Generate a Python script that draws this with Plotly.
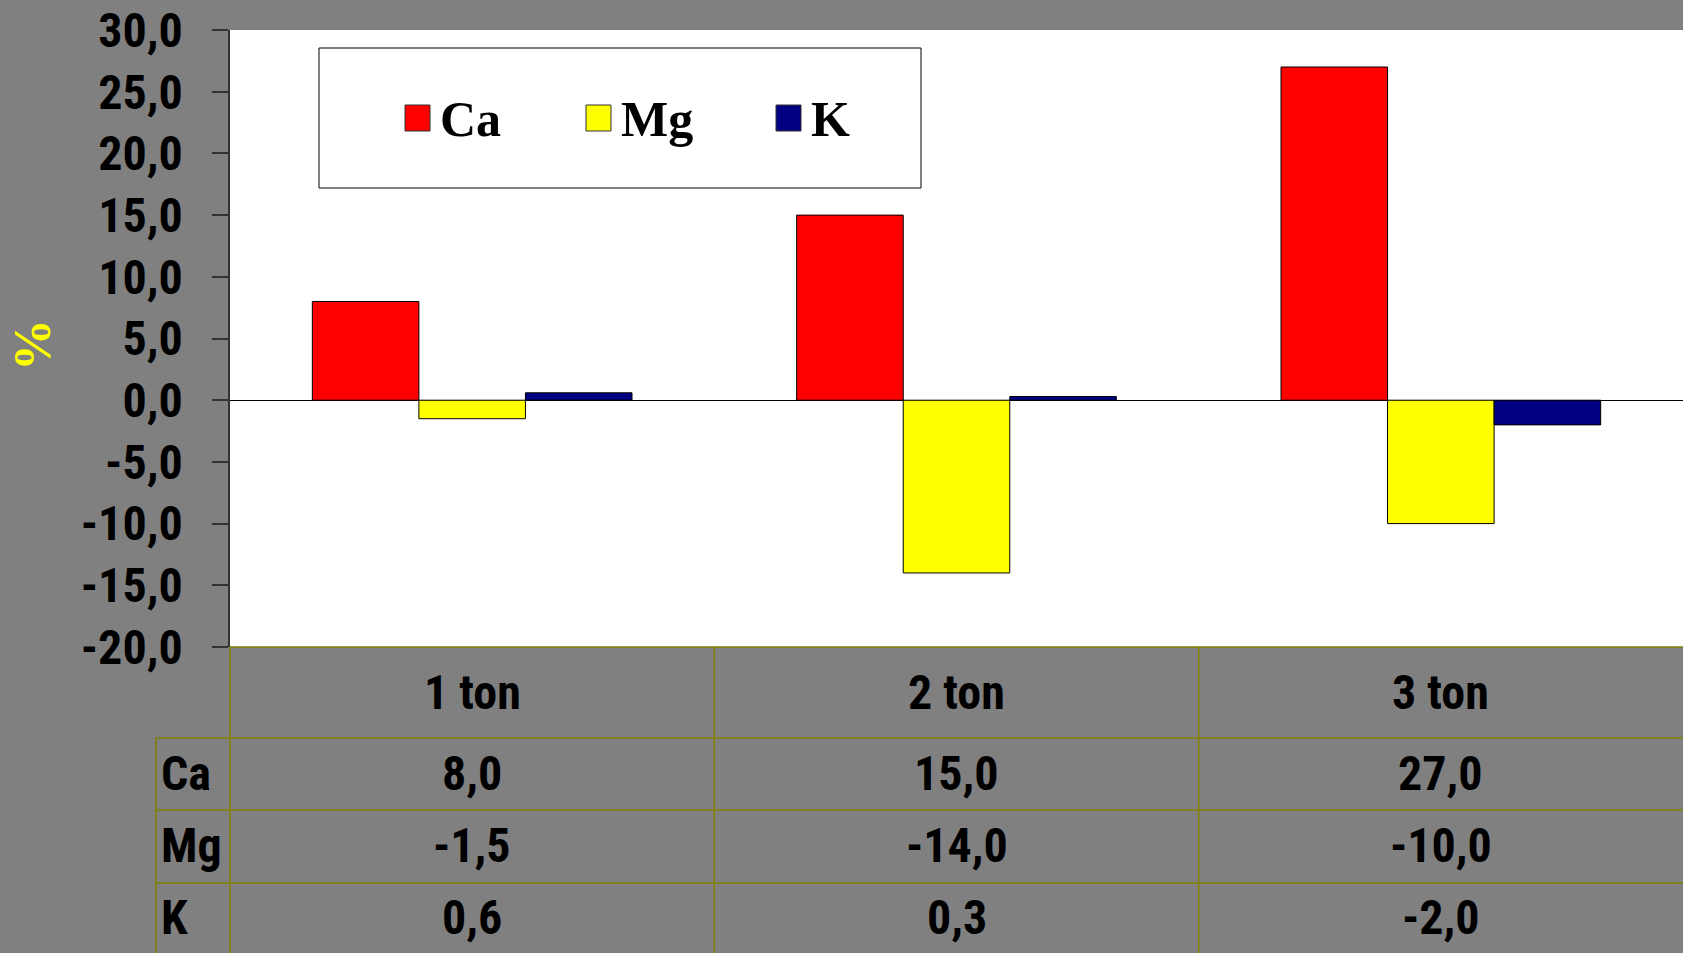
import plotly.graph_objects as go

categories = ["1 ton", "2 ton", "3 ton"]
series_names = ["Ca", "Mg", "K"]
ca_values = [8.0, 15.0, 27.0]
mg_values = [-1.5, -14.0, -10.0]
k_values = [0.6, 0.3, -2.0]
y_ticks = [30, 25, 20, 15, 10, 5, 0, -5, -10, -15, -20]

series_values = [ca_values, mg_values, k_values]
colors = ["#FF0000", "#FFFF00", "#000080"]

W, H = 1683, 953
PL, PR, PT, PB = 230, 1683, 30, 647  # plot area in pixels

def px_x(X):
    return (X - PL) / (PR - PL)

def px_y(Y):
    return (PB - Y) / (PB - PT)

def fmt(v):
    return f"{v:.1f}".replace(".", ",")

NARROW = "Liberation Sans Narrow, Arial Narrow, Roboto Condensed, DejaVu Sans Condensed, Arial, sans-serif"
SERIF = "Liberation Serif, Times New Roman, serif"
OLIVE = "#808000"

fig = go.Figure()
for name, vals, col in zip(series_names, series_values, colors):
    fig.add_trace(go.Bar(x=categories, y=vals, name=name,
                         marker=dict(color=col, line=dict(color="#000000", width=1)),
                         showlegend=False))

fig.update_layout(
    width=W, height=H,
    margin=dict(l=PL, r=W - PR, t=PT, b=H - PB, pad=0),
    paper_bgcolor="#808080", plot_bgcolor="#FFFFFF",
    barmode="group", bargap=0.34, bargroupgap=0,
    xaxis=dict(showticklabels=False, ticks="", showgrid=False, zeroline=False,
               showline=False, range=[-0.5, 2.5]),
    yaxis=dict(range=[-20, 30], tickvals=y_ticks, ticktext=[fmt(t) for t in y_ticks],
               ticks="outside", ticklen=16, tickwidth=1.5, tickcolor="#333333",
               showline=True, linecolor="#333333", linewidth=1.5,
               showgrid=False, zeroline=True, zerolinecolor="#000000", zerolinewidth=1,
               tickfont=dict(family=NARROW, size=48, color="#000000", weight="bold"),
               ticklabelstandoff=20),
)

shapes = []
annotations = []

# table grid
row_tops = [647, 738, 810, 883, 953]
for i, Y in enumerate(row_tops[:-1]):
    x0 = PL if i == 0 else 156
    shapes.append(dict(type="line", xref="paper", yref="paper",
                       x0=px_x(x0), x1=px_x(PR), y0=px_y(Y), y1=px_y(Y),
                       line=dict(color=OLIVE, width=1.5)))
col_w = (PR - PL) / len(categories)
for j in range(len(categories)):
    X = PL + j * col_w
    shapes.append(dict(type="line", xref="paper", yref="paper",
                       x0=px_x(X), x1=px_x(X), y0=px_y(647), y1=px_y(953),
                       line=dict(color=OLIVE, width=1.5)))
shapes.append(dict(type="line", xref="paper", yref="paper",
                   x0=px_x(156), x1=px_x(156), y0=px_y(738), y1=px_y(953),
                   line=dict(color=OLIVE, width=1.5)))

cell_font = dict(family=NARROW, size=48, color="#000000", weight="bold")
# header labels
for j, c in enumerate(categories):
    annotations.append(dict(text=c, x=px_x(PL + (j + 0.5) * col_w), y=px_y(692),
                            xref="paper", yref="paper", showarrow=False,
                            xanchor="center", yanchor="middle", font=cell_font))
row_centers = [774, 846, 918]
for name, vals, Yc in zip(series_names, series_values, row_centers):
    annotations.append(dict(text=name, x=px_x(159), y=px_y(Yc), xref="paper", yref="paper",
                            showarrow=False, xanchor="left", yanchor="middle", font=cell_font))
    for j, v in enumerate(vals):
        annotations.append(dict(text=fmt(v), x=px_x(PL + (j + 0.5) * col_w), y=px_y(Yc),
                                xref="paper", yref="paper", showarrow=False,
                                xanchor="center", yanchor="middle", font=cell_font))

# legend box
shapes.append(dict(type="rect", xref="paper", yref="paper",
                   x0=px_x(319), x1=px_x(921), y0=px_y(188), y1=px_y(48),
                   fillcolor="#FFFFFF", line=dict(color="#000000", width=1)))
leg_x = [405, 586, 776]
for name, col, X in zip(series_names, colors, leg_x):
    shapes.append(dict(type="rect", xref="paper", yref="paper",
                       x0=px_x(X), x1=px_x(X + 25), y0=px_y(131), y1=px_y(105),
                       fillcolor=col, line=dict(color="#333333", width=1)))
    annotations.append(dict(text=name, x=px_x(X + 33), y=px_y(119), xref="paper", yref="paper",
                            showarrow=False, xanchor="left", yanchor="middle",
                            font=dict(family=SERIF, size=50, color="#000000", weight="bold")))

# y axis title
annotations.append(dict(text="%", x=px_x(32), y=px_y(345), xref="paper", yref="paper",
                        showarrow=False, textangle=-90, xanchor="center", yanchor="middle",
                        font=dict(family=SERIF, size=52, color="#FFFF00", weight="bold")))

fig.update_layout(shapes=shapes, annotations=annotations)

fig.write_html("out.html", config={"displayModeBar": False},
               post_script="document.body.style.margin='0';document.body.style.background='#808080';")
